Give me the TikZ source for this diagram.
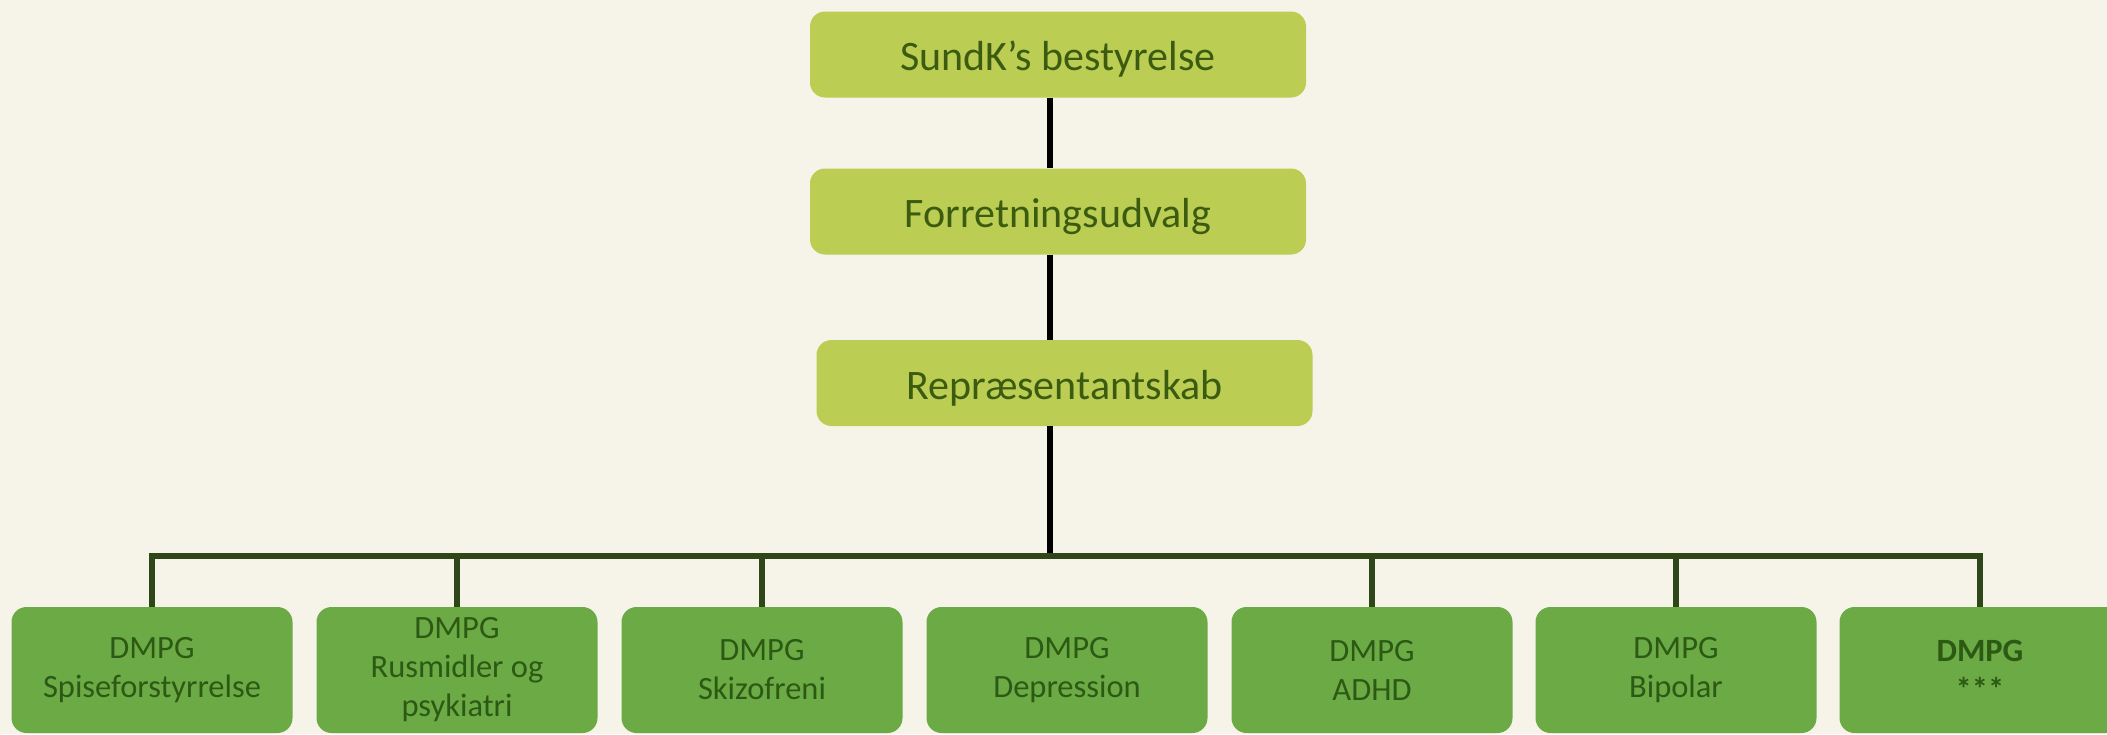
\documentclass[tikz,border=0pt]{standalone}
\usepackage{fontspec}
\setmainfont{Carlito}
\definecolor{bg}{HTML}{F6F4E8}
\definecolor{topfill}{HTML}{BBCD52}
\definecolor{toptext}{HTML}{3B5C10}
\definecolor{botfill}{HTML}{6BAA45}
\definecolor{bottext}{HTML}{2C5A14}
\definecolor{busline}{HTML}{2F4718}
\newcommand\lowtext[1]{\raisebox{-5pt}[\height][\depth]{#1}}
\tikzset{
  topbox/.style={rectangle, rounded corners=15pt, fill=topfill, text=toptext,
    minimum width=496pt, minimum height=86pt, inner sep=0pt,
    font=\fontsize{42}{48}\selectfont},
  botbox/.style={rectangle, rounded corners=15pt, fill=botfill, text=bottext,
    minimum width=281pt, minimum height=126pt, inner sep=0pt, align=center,
    font=\fontsize{32.5}{39}\selectfont},
  trunk/.style={line width=6pt, black},
  bus/.style={line width=6pt, busline, line join=miter},
}
\begin{document}
\begin{tikzpicture}[x=1pt,y=-1pt]
\fill[bg] (0,0) rectangle (2107,734);
\useasboundingbox (0,0) rectangle (2107,734);
\clip (0,0) rectangle (2107,734);
\coordinate (tx) at (1050,0);
\coordinate (busy) at (0,556);
\node[topbox] (sundk) at (1058,54.5) {\lowtext{SundK’s bestyrelse}};
\node[topbox] (forr) at (1058,211.5) {\lowtext{Forretningsudvalg}};
\node[topbox] (repr) at (1064.5,383) {\lowtext{Repræsentantskab}};
\node[botbox] (b1) at (152,670) {DMPG\\Spiseforstyrrelse};
\node[botbox] (b2) at (457,670) {DMPG\\Rusmidler og\\psykiatri};
\node[botbox] (b3) at (762,670) {DMPG\\Skizofreni};
\node[botbox] (b4) at (1067,670) {DMPG\\Depression};
\node[botbox] (b5) at (1372,670) {DMPG\\ADHD};
\node[botbox] (b6) at (1676,670) {DMPG\\Bipolar};
\node[botbox, font=\fontsize{32.5}{39}\selectfont\bfseries] (b7) at (1980,670) {DMPG\\***};
\draw[trunk] (sundk.south -| tx) -- (forr.north -| tx);
\draw[trunk] (forr.south -| tx) -- (repr.north -| tx);
\draw[trunk] (repr.south -| tx) -- (tx |- busy);
\draw[bus] (b1.north) -- (b1.north |- busy) -- (b7.north |- busy) -- (b7.north);
\draw[bus] (b2.north) -- (b2.north |- busy);
\draw[bus] (b3.north) -- (b3.north |- busy);
\draw[bus] (b5.north) -- (b5.north |- busy);
\draw[bus] (b6.north) -- (b6.north |- busy);
\end{tikzpicture}
\end{document}
